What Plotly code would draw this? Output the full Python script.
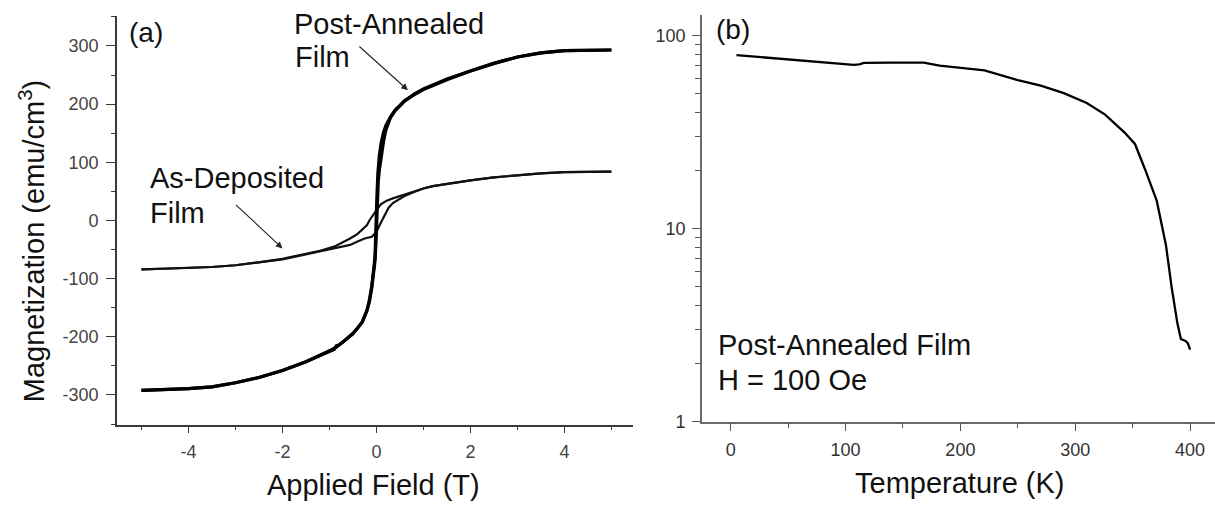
import plotly.graph_objects as go

# ---------------- (a) M-H hysteresis loops at room temperature ----------------
# Post-annealed film, field swept from +5 T down to -5 T
pa_down_H = [5, 4.5, 4, 3.5, 3, 2.5, 2, 1.5, 1.2, 1.0, 0.8, 0.6, 0.5, 0.4, 0.3, 0.2,
             0.15, 0.1, 0.06, 0.03, 0.01, -0.01, -0.02, -0.03, -0.05, -0.08, -0.1,
             -0.15, -0.2, -0.3, -0.4, -0.5, -0.7, -0.85, -1.0, -1.2, -1.5, -2, -2.5,
             -3, -3.5, -4, -4.5, -5]
pa_down_M = [293, 293, 292, 288, 281, 270, 257, 242, 232, 225, 216, 206, 198, 190, 178,
             163, 151, 133, 110, 80, 40, -20, -45, -62, -78, -100, -113, -137, -155,
             -175, -186, -195, -208, -218, -224, -232, -243, -258, -270, -279, -286,
             -289, -291, -292]
# Post-annealed film, field swept from -5 T back up to +5 T
pa_up_H = [-5, -4.5, -4, -3.5, -3, -2.5, -2, -1.5, -1.2, -1.0, -0.9, -0.85, -0.8, -0.7,
           -0.5, -0.4, -0.3, -0.2, -0.15, -0.1, -0.06, -0.03, -0.01, 0.01, 0.02, 0.04,
           0.06, 0.1, 0.15, 0.2, 0.3, 0.4, 0.5, 0.6, 0.8, 1.0, 1.2, 1.5, 2, 2.5, 3,
           3.5, 4, 4.5, 5]
pa_up_M = [-292, -291, -289, -286, -279, -270, -258, -243, -233, -225, -222, -215, -214,
           -208, -194, -185, -174, -154, -140, -117, -95, -70, -40, 20, 48, 68, 85, 108,
           135, 155, 177, 189, 198, 205, 217, 226, 233, 243, 257, 270, 281, 288, 292,
           293, 293]

# As-deposited film, descending field
ad_down_H = [5, 4.5, 4, 3.5, 3, 2.5, 2, 1.5, 1.2, 1.0, 0.8, 0.6, 0.5, 0.35, 0.22, 0.1,
             0.04, -0.03, -0.1, -0.15, -0.2, -0.3, -0.4, -0.56, -0.7, -0.9, -1.2, -1.6,
             -2, -2.5, -3, -3.5, -4, -4.5, -5]
ad_down_M = [84, 84, 83, 81, 78, 74, 69, 63, 59, 55, 50, 45, 42, 38, 34, 28, 22, 14, 6,
             0, -8, -16, -23, -31, -37, -45, -52, -59, -66, -72, -77, -80, -82, -83, -84]
# As-deposited film, ascending field
ad_up_H = [-5, -4.5, -4, -3.5, -3, -2.5, -2, -1.6, -1.2, -0.9, -0.7, -0.56, -0.4, -0.25,
           -0.1, 0.0, 0.08, 0.15, 0.2, 0.26, 0.35, 0.5, 0.6, 0.8, 1.0, 1.2, 1.5, 2, 2.5,
           3, 3.5, 4, 4.5, 5]
ad_up_M = [-84, -83, -82, -80, -77, -72, -67, -60, -53, -47, -44, -42, -36, -31, -28, -20,
           -6, 6, 14, 22, 30, 37, 42, 49, 55, 59, 63, 69, 74, 78, 81, 83, 84, 84]

# ---------------- (b) M-T curve of the post-annealed film, H = 100 Oe ----------------
temp_K = [5, 17, 46, 66, 84, 100, 107, 112, 116, 140, 168, 182, 201, 221, 250, 270, 290,
          310, 326, 343, 352, 361, 371, 379, 384, 389, 392, 396, 398, 400]
mag_T = [79, 78, 75, 73.5, 72, 71, 70.4, 70.8, 72, 72.3, 72.2, 69.8, 68, 65.9, 58.6, 54.9,
         50.2, 44.7, 38.9, 31.4, 27.4, 20.1, 13.9, 8.2, 4.94, 3.22, 2.68, 2.62, 2.55, 2.36]

# Tick values and labels
a_xticks = [-4, -2, 0, 2, 4]
a_xlabels = ["-4", "-2", "0", "2", "4"]
a_yticks = [-300, -200, -100, 0, 100, 200, 300]
a_ylabels = ["-300", "-200", "-100", "0", "100", "200", "300"]
b_xticks = [0, 100, 200, 300, 400]
b_xlabels = ["0", "100", "200", "300", "400"]
b_yticks = [1, 10, 100]
b_ylabels = ["1", "10", "100"]

FONT = "Liberation Sans, Arial, Helvetica, sans-serif"
W, H = 1215, 518

fig = go.Figure()

fig.add_trace(go.Scatter(x=ad_down_H, y=ad_down_M, mode="lines",
                         line=dict(color="#111", width=2.2), xaxis="x", yaxis="y"))
fig.add_trace(go.Scatter(x=ad_up_H, y=ad_up_M, mode="lines",
                         line=dict(color="#111", width=2.2), xaxis="x", yaxis="y"))
fig.add_trace(go.Scatter(x=pa_down_H, y=pa_down_M, mode="lines",
                         line=dict(color="#000", width=3.2), xaxis="x", yaxis="y"))
fig.add_trace(go.Scatter(x=pa_up_H, y=pa_up_M, mode="lines",
                         line=dict(color="#000", width=3.2), xaxis="x", yaxis="y"))
fig.add_trace(go.Scatter(x=temp_K, y=mag_T, mode="lines",
                         line=dict(color="#000", width=2.3), xaxis="x2", yaxis="y2"))

axis_a = dict(showline=True, linecolor="#3a3a3a", linewidth=1.6, showgrid=False,
              zeroline=False, ticks="outside", tickcolor="#3a3a3a", tickwidth=1.4,
              tickfont=dict(family=FONT, size=18, color="#444"), mirror=False)
axis_b = dict(showline=True, linecolor="#6a6a6a", linewidth=1.6, showgrid=False,
              zeroline=False, ticks="outside", tickcolor="#555", tickwidth=1.4,
              tickfont=dict(family=FONT, size=18, color="#333"), mirror=False)

fig.update_layout(
    width=W, height=H,
    margin=dict(l=0, r=0, t=0, b=0),
    paper_bgcolor="white", plot_bgcolor="white",
    showlegend=False,
    xaxis=dict(axis_a, domain=[117 / W, 633 / W], range=[-5.52, 5.46],
               tickmode="array", tickvals=a_xticks, ticktext=a_xlabels, ticklen=7,
               ticklabelstandoff=3,
               minor=dict(dtick=1, tick0=0, ticks="outside", ticklen=4,
                          tickcolor="#3a3a3a", tickwidth=1.4),
               anchor="y"),
    yaxis=dict(axis_a, domain=[(H - 433) / H, (H - 16) / H], range=[-351, 352],
               tickmode="array", tickvals=a_yticks, ticktext=a_ylabels, ticklen=9,
               ticklabelstandoff=4,
               minor=dict(dtick=50, tick0=0, ticks="outside", ticklen=4,
                          tickcolor="#3a3a3a", tickwidth=1.4),
               anchor="x"),
    xaxis2=dict(axis_b, domain=[702 / W, 1.0], range=[-25, 421.7],
                tickmode="array", tickvals=b_xticks, ticktext=b_xlabels, ticklen=8,
                ticklabelstandoff=3,
                minor=dict(dtick=50, tick0=0, ticks="outside", ticklen=5,
                           tickcolor="#555", tickwidth=1.4),
                anchor="y2"),
    yaxis2=dict(axis_b, type="log", domain=[(H - 430) / H, (H - 15) / H],
                range=[0, 2.107], tickmode="array", tickvals=b_yticks,
                ticktext=b_ylabels, ticklen=8, ticklabelstandoff=3,
                minor=dict(dtick="D1", ticks="outside", ticklen=5,
                           tickcolor="#555", tickwidth=1.4),
                anchor="x2"),
)


def paper_x(px):
    return px / W


def paper_y(py):
    return (H - py) / H


def label(text, x, y, size=29, xanchor="left", angle=0, color="#111"):
    fig.add_annotation(text=text, x=paper_x(x), y=paper_y(y), xref="paper",
                       yref="paper", xanchor=xanchor, yanchor="middle",
                       showarrow=False, textangle=angle,
                       font=dict(family=FONT, size=size, color=color))


# axis titles
label("Applied Field (T)", 374, 495, xanchor="center")
label("Temperature (K)", 960, 493, xanchor="center")
label("Magnetization (emu/cm<sup>3</sup>)", 32, 246, xanchor="center", angle=-90)

# panel tags and curve labels
label("(a)", 127, 33, size=28)
label("(b)", 714, 30, size=28)
label("Post-Annealed", 292, 24)
label("Film", 293, 58)
label("As-Deposited", 148, 182)
label("Film", 148, 217)
label("Post-Annealed Film", 716, 352)
label("H = 100 Oe", 716, 387)

# arrows pointing at the two loops
fig.add_annotation(x=0.67, y=224, xref="x", yref="y", ax=-50, ay=-45,
                   showarrow=True, arrowhead=2, arrowsize=1.2, arrowwidth=1.1,
                   arrowcolor="#222", text="")
fig.add_annotation(x=-2.0, y=-48, xref="x", yref="y", ax=-48, ay=-45,
                   showarrow=True, arrowhead=2, arrowsize=1.2, arrowwidth=1.1,
                   arrowcolor="#222", text="")

fig.write_html("out.html")
